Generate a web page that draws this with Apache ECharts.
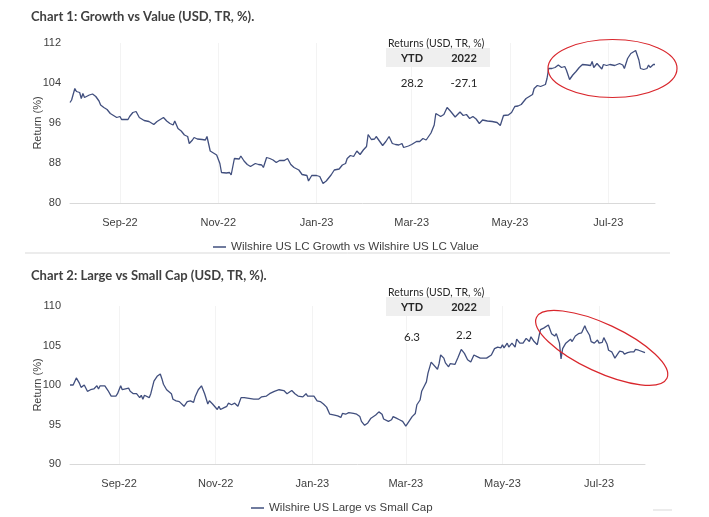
<!DOCTYPE html>
<html>
<head>
<meta charset="utf-8">
<script src="https://cdn.jsdelivr.net/npm/echarts/dist/echarts.min.js"></script>
<style>
html, body { margin: 0; padding: 0; background: #fff; }
#chart { width: 709px; height: 517px; }
</style>
</head>
<body>
<div id="chart"></div>
<script>
// chart 1: growth vs value
var growthDates = [
    '2022-08-01','2022-08-02','2022-08-04','2022-08-05','2022-08-07','2022-08-08','2022-08-09','2022-08-10','2022-08-11','2022-08-13','2022-08-15','2022-08-17','2022-08-19','2022-08-20','2022-08-22','2022-08-24','2022-08-25','2022-08-26','2022-08-28','2022-08-30',
    '2022-09-01','2022-09-02','2022-09-06','2022-09-07','2022-09-09','2022-09-11','2022-09-13','2022-09-16','2022-09-19','2022-09-22','2022-09-24','2022-09-28','2022-09-30',
    '2022-10-02','2022-10-04','2022-10-05','2022-10-07','2022-10-09','2022-10-11','2022-10-13','2022-10-14','2022-10-16','2022-10-17','2022-10-19','2022-10-22','2022-10-24','2022-10-25','2022-10-27','2022-10-29','2022-10-31',
    '2022-11-02','2022-11-03','2022-11-06','2022-11-08','2022-11-09','2022-11-11','2022-11-12','2022-11-14','2022-11-15','2022-11-17','2022-11-19','2022-11-21','2022-11-24','2022-11-26','2022-11-28','2022-11-29',
    '2022-12-01','2022-12-03','2022-12-05','2022-12-07','2022-12-09','2022-12-12','2022-12-14','2022-12-16','2022-12-18','2022-12-21','2022-12-23','2022-12-26','2022-12-27','2022-12-29',
    '2023-01-01','2023-01-03','2023-01-05','2023-01-07','2023-01-10','2023-01-12','2023-01-15','2023-01-17','2023-01-19','2023-01-20','2023-01-22','2023-01-24','2023-01-26','2023-01-28','2023-01-30',
    '2023-02-01','2023-02-02','2023-02-04','2023-02-06','2023-02-07','2023-02-09','2023-02-11','2023-02-13','2023-02-15','2023-02-17','2023-02-19','2023-02-21','2023-02-23','2023-02-24','2023-02-27',
    '2023-03-01','2023-03-02','2023-03-04','2023-03-06','2023-03-08','2023-03-10','2023-03-13','2023-03-15','2023-03-16','2023-03-19','2023-03-21','2023-03-23','2023-03-25','2023-03-28','2023-03-31',
    '2023-04-02','2023-04-04','2023-04-06','2023-04-08','2023-04-10','2023-04-12','2023-04-14','2023-04-17','2023-04-20','2023-04-23','2023-04-25','2023-04-27','2023-04-30',
    '2023-05-02','2023-05-04','2023-05-06','2023-05-08','2023-05-11','2023-05-13','2023-05-15','2023-05-16','2023-05-18','2023-05-20','2023-05-21','2023-05-23','2023-05-24','2023-05-25','2023-05-27','2023-05-29','2023-05-31',
    '2023-06-02','2023-06-04','2023-06-05','2023-06-07','2023-06-09','2023-06-11','2023-06-13','2023-06-15','2023-06-16','2023-06-18','2023-06-20','2023-06-21','2023-06-22','2023-06-24','2023-06-25','2023-06-27','2023-06-28','2023-06-30',
    '2023-07-02','2023-07-05','2023-07-08','2023-07-10','2023-07-11','2023-07-13','2023-07-15','2023-07-18','2023-07-20','2023-07-21','2023-07-23','2023-07-25','2023-07-26','2023-07-27','2023-07-29','2023-07-30'
];
var growthVsValue = [
    100.1,100.6,102.9,102.3,102.1,100.9,101.9,101.1,101.5,101.6,101.8,101.3,100.4,99.6,99.1,98.7,99.0,97.9,97.5,97.1,
    97.3,96.7,96.7,97.3,98.1,98.3,97.1,96.5,96.3,95.7,96.3,97.1,96.4,
    95.9,95.6,96.4,94.9,94.4,93.6,93.3,91.9,92.6,93.1,92.8,92.7,92.6,93.3,90.4,90.0,89.6,
    87.9,86.1,86.0,86.1,85.6,88.9,89.3,88.8,89.4,88.4,87.7,87.3,87.9,87.7,87.6,87.1,
    89.1,88.9,88.6,88.1,88.5,88.5,88.9,87.7,87.1,86.6,85.7,85.5,84.4,85.5,
    85.5,85.3,83.9,84.4,85.6,86.6,86.8,87.6,87.9,88.9,89.5,89.3,90.4,89.7,90.6,
    91.3,93.7,92.7,92.8,93.3,92.4,91.5,92.3,93.3,91.9,91.7,91.6,91.9,91.1,91.4,
    91.7,91.5,92.3,92.3,92.9,92.6,94.0,95.6,97.9,97.3,97.7,99.1,98.4,97.2,98.2,
    97.5,97.7,96.9,97.3,96.8,95.9,96.6,96.4,96.3,96.1,95.5,97.5,97.6,
    98.1,99.3,99.4,99.7,100.9,101.3,101.7,102.9,103.5,103.3,102.9,103.7,104.9,106.9,106.9,107.1,107.6,
    107.1,107.3,106.6,104.7,105.6,106.3,107.1,107.7,107.4,107.6,107.5,108.3,107.1,107.9,107.6,106.8,107.7,107.5,
    107.7,107.5,107.9,107.6,106.9,108.9,109.9,110.5,108.6,106.9,106.7,106.9,107.6,107.1,107.7,107.7
];

// chart 2: large vs small cap
var sizeDates = [
    '2022-08-01','2022-08-03','2022-08-05','2022-08-07','2022-08-08','2022-08-10','2022-08-12','2022-08-14','2022-08-16','2022-08-18','2022-08-19','2022-08-20','2022-08-23','2022-08-25','2022-08-27','2022-08-30','2022-08-31',
    '2022-09-02','2022-09-03','2022-09-05','2022-09-07','2022-09-08','2022-09-10','2022-09-12','2022-09-14','2022-09-15','2022-09-16','2022-09-17','2022-09-18','2022-09-20','2022-09-21','2022-09-23','2022-09-25','2022-09-27','2022-09-28','2022-09-29',
    '2022-10-01','2022-10-02','2022-10-04','2022-10-05','2022-10-07','2022-10-09','2022-10-12','2022-10-14','2022-10-16','2022-10-18','2022-10-19','2022-10-21','2022-10-23','2022-10-24','2022-10-25','2022-10-27','2022-10-28','2022-10-30','2022-10-31',
    '2022-11-02','2022-11-03','2022-11-04','2022-11-06','2022-11-08','2022-11-09','2022-11-11','2022-11-13','2022-11-14','2022-11-15','2022-11-17','2022-11-19','2022-11-22','2022-11-23','2022-11-25','2022-11-26','2022-11-28','2022-11-30',
    '2022-12-01','2022-12-03','2022-12-05','2022-12-06','2022-12-08','2022-12-11','2022-12-14','2022-12-16','2022-12-19','2022-12-21','2022-12-23','2022-12-26','2022-12-28','2022-12-29',
    '2023-01-02','2023-01-04','2023-01-06','2023-01-08','2023-01-10','2023-01-12','2023-01-15','2023-01-17','2023-01-19','2023-01-20','2023-01-22','2023-01-24','2023-01-27','2023-01-29','2023-01-31',
    '2023-02-01','2023-02-03','2023-02-05','2023-02-07','2023-02-10','2023-02-12','2023-02-14','2023-02-15','2023-02-18','2023-02-20','2023-02-21','2023-02-23','2023-02-25','2023-02-27',
    '2023-03-01','2023-03-03','2023-03-05','2023-03-07','2023-03-08','2023-03-10','2023-03-11','2023-03-13','2023-03-14','2023-03-15','2023-03-17','2023-03-18','2023-03-21','2023-03-22','2023-03-23','2023-03-25','2023-03-26','2023-03-28','2023-03-29',
    '2023-04-01','2023-04-03','2023-04-05','2023-04-07','2023-04-09','2023-04-11','2023-04-13','2023-04-15','2023-04-17','2023-04-21','2023-04-24','2023-04-26','2023-04-28','2023-04-30',
    '2023-05-01','2023-05-02','2023-05-04','2023-05-05','2023-05-07','2023-05-09','2023-05-10','2023-05-12','2023-05-14','2023-05-16','2023-05-18','2023-05-19','2023-05-21','2023-05-23','2023-05-24','2023-05-25','2023-05-27','2023-05-28','2023-05-30','2023-05-31',
    '2023-06-01','2023-06-02','2023-06-03','2023-06-04','2023-06-06','2023-06-07','2023-06-08','2023-06-10','2023-06-11','2023-06-13','2023-06-14','2023-06-16','2023-06-18','2023-06-20','2023-06-22','2023-06-23','2023-06-25','2023-06-26','2023-06-28','2023-06-30',
    '2023-07-01','2023-07-03','2023-07-04','2023-07-06','2023-07-07','2023-07-09','2023-07-11','2023-07-13','2023-07-14','2023-07-16','2023-07-17','2023-07-19','2023-07-21','2023-07-22','2023-07-23','2023-07-24','2023-07-26','2023-07-27','2023-07-30'
];
var largeVsSmall = [
    100.0,100.0,100.9,100.2,99.7,100.0,99.2,99.4,99.5,99.9,99.5,99.9,99.9,99.3,98.6,98.6,98.9,
    99.9,99.4,99.5,99.6,99.2,98.9,98.9,98.4,98.7,98.2,98.7,98.6,98.4,98.9,100.5,101.1,101.4,100.8,100.1,
    99.4,99.2,98.9,98.2,98.0,97.9,97.3,97.9,98.0,97.8,98.5,99.4,99.9,100.1,98.9,97.6,98.0,97.6,97.5,
    96.9,97.3,96.9,97.1,97.3,97.7,97.5,97.7,97.8,97.3,98.4,98.4,98.3,98.5,98.2,98.4,98.2,98.5,
    98.3,98.6,98.9,99.0,99.2,99.4,99.3,98.9,99.3,98.9,98.6,98.5,98.9,98.6,
    98.6,98.0,97.9,97.6,97.2,96.3,96.2,96.1,95.9,96.4,96.3,96.5,96.4,96.3,96.0,
    95.4,94.9,95.2,95.8,96.2,96.6,96.3,95.7,95.4,95.6,96.0,95.8,95.6,95.4,
    94.8,95.4,96.0,96.4,97.5,98.1,99.2,100.0,100.4,101.5,102.9,102.7,102.0,102.7,103.8,103.4,102.8,102.3,102.7,
    102.6,103.5,104.5,104.0,103.2,102.9,103.8,103.6,103.4,103.4,103.8,104.6,104.8,104.7,
    105.1,104.7,105.3,104.8,105.3,104.8,105.8,105.3,105.3,105.9,105.5,106.1,105.5,105.1,106.1,107.0,107.2,107.0,107.6,107.8,
    106.5,106.7,106.2,106.5,105.3,103.3,104.6,105.3,105.5,105.8,105.5,106.2,106.5,106.6,107.5,107.0,106.3,105.5,105.3,105.7,
    105.3,105.4,106.0,105.2,104.4,104.2,103.4,104.0,104.3,104.2,103.9,104.1,104.2,104.4,104.2,104.5,104.4,104.3,104.1
];

var tickDates = ['2022-09-01', '2022-11-01', '2023-01-01', '2023-03-01', '2023-05-01', '2023-07-01'];
var monthNames = ['Jan', 'Feb', 'Mar', 'Apr', 'May', 'Jun', 'Jul', 'Aug', 'Sep', 'Oct', 'Nov', 'Dec'];

var tableHead = ['YTD', '2022'];
var growthReturns = ['28.2', '-27.1'];
var sizeReturns = ['6.3', '2.2'];

var lineColor = '#414f7e';
var textColor = '#404040';
var titleFont = 'Lato, "Open Sans", sans-serif';
var axisFont = '"Liberation Sans", Arial, sans-serif';

function toTime(s) {
    return echarts.time.parse(s).getTime();
}

function zip(dates, values) {
    var out = [];
    for (var i = 0; i < dates.length; i++) {
        out.push([toTime(dates[i]), values[i]]);
    }
    return out;
}

function monthLabel(val) {
    var d = new Date(val);
    return monthNames[d.getMonth()] + '-' + String(d.getFullYear()).slice(2);
}

// dates go on a plain value axis so the labels can sit on month starts
function makeX(idx) {
    var ticks = tickDates.map(toTime);
    return {
        type: 'value',
        gridIndex: idx,
        min: toTime('2022-08-01'),
        max: toTime('2023-07-30'),
        axisLine: { show: true, onZero: false, lineStyle: { color: '#d9d9d9', width: 1 } },
        axisTick: { show: false, customValues: ticks },
        axisLabel: {
            customValues: ticks,
            formatter: monthLabel,
            color: textColor,
            fontFamily: axisFont,
            fontSize: 11,
            margin: 14
        },
        splitLine: { show: true, lineStyle: { color: '#f3f3f3', width: 1 } }
    };
}

function makeY(idx, min, max, step) {
    return {
        type: 'value',
        gridIndex: idx,
        min: min,
        max: max,
        interval: step,
        name: 'Return (%)',
        nameLocation: 'middle',
        nameGap: 27,
        nameMoveOverlap: false,
        nameTextStyle: { color: textColor, fontFamily: axisFont, fontSize: 11 },
        axisLine: { show: false },
        axisTick: { show: false },
        splitLine: { show: false },
        axisLabel: { color: textColor, fontFamily: axisFont, fontSize: 11, margin: 9 }
    };
}

// little returns table drawn next to each chart
function returnsTable(top, values, valueTops) {
    var els = [];
    els.push({ type: 'text', left: 388, top: top, z: 100, style: { text: 'Returns (USD, TR, %)', fill: '#262626', font: '10.5px ' + titleFont } });
    els.push({ type: 'rect', z: 99, shape: { x: 386, y: top + 10, width: 104, height: 19 }, style: { fill: '#efefef' } });
    var centers = [412, 464];
    for (var i = 0; i < 2; i++) {
        els.push({ type: 'text', x: centers[i], y: top + 20, z: 100, style: { text: tableHead[i], fill: '#262626', font: 'bold 11px ' + titleFont, align: 'center', verticalAlign: 'middle' } });
        els.push({ type: 'text', x: centers[i], y: valueTops[i], z: 100, style: { text: values[i], fill: '#262626', font: '11.5px ' + titleFont, align: 'center', verticalAlign: 'middle', backgroundColor: '#ffffff' } });
    }
    return els;
}

var chart = echarts.init(document.getElementById('chart'), null, { renderer: 'canvas' });

var graphics = [];
graphics = graphics.concat(returnsTable(38, growthReturns, [83, 83]));
graphics = graphics.concat(returnsTable(287, sizeReturns, [337, 335]));
graphics.push({ type: 'line', shape: { x1: 25, y1: 253, x2: 670, y2: 253 }, style: { stroke: '#d9d9d9', lineWidth: 1 } });
graphics.push({ type: 'line', shape: { x1: 653, y1: 510, x2: 672, y2: 510 }, style: { stroke: '#d9d9d9', lineWidth: 1 } });
// red highlight rings
graphics.push({ type: 'ellipse', x: 612.5, y: 68.5, z: 100, shape: { cx: 0, cy: 0, rx: 64.5, ry: 29 }, style: { fill: 'none', stroke: '#d9262c', lineWidth: 1.2 } });
graphics.push({ type: 'ellipse', x: 601.7, y: 347.9, z: 100, rotation: -25 * Math.PI / 180, shape: { cx: 0, cy: 0, rx: 72, ry: 24 }, style: { fill: 'none', stroke: '#d9262c', lineWidth: 1.2 } });

var option = {
    animation: false,
    backgroundColor: '#ffffff',
    title: [
        { text: 'Chart 1: Growth vs Value (USD, TR, %).', left: 26, top: 5, textStyle: { color: textColor, fontFamily: titleFont, fontWeight: 'bold', fontSize: 13 } },
        { text: 'Chart 2: Large vs Small Cap (USD, TR, %).', left: 26, top: 264, textStyle: { color: textColor, fontFamily: titleFont, fontWeight: 'bold', fontSize: 13 } }
    ],
    legend: [
        {
            data: [{ name: 'Wilshire US LC Growth vs Wilshire US LC Value', icon: 'rect' }],
            left: 208, top: 236, itemWidth: 13, itemHeight: 1.5, itemGap: 6,
            textStyle: { color: textColor, fontFamily: axisFont, fontSize: 11.6 }
        },
        {
            data: [{ name: 'Wilshire US Large vs Small Cap', icon: 'rect' }],
            left: 246, top: 497, itemWidth: 13, itemHeight: 1.5, itemGap: 6,
            textStyle: { color: textColor, fontFamily: axisFont, fontSize: 11.5 }
        }
    ],
    grid: [
        { left: 70, top: 43, width: 585, height: 160 },
        { left: 70, top: 306, width: 575, height: 158 }
    ],
    xAxis: [makeX(0), makeX(1)],
    yAxis: [makeY(0, 80, 112, 8), makeY(1, 90, 110, 5)],
    series: [
        {
            name: 'Wilshire US LC Growth vs Wilshire US LC Value',
            type: 'line', xAxisIndex: 0, yAxisIndex: 0,
            symbol: 'none',
            lineStyle: { color: lineColor, width: 1.3 },
            itemStyle: { color: lineColor },
            data: zip(growthDates, growthVsValue)
        },
        {
            name: 'Wilshire US Large vs Small Cap',
            type: 'line', xAxisIndex: 1, yAxisIndex: 1,
            symbol: 'none',
            lineStyle: { color: lineColor, width: 1.3 },
            itemStyle: { color: lineColor },
            data: zip(sizeDates, largeVsSmall)
        }
    ],
    graphic: graphics
};

chart.setOption(option);
</script>
</body>
</html>
